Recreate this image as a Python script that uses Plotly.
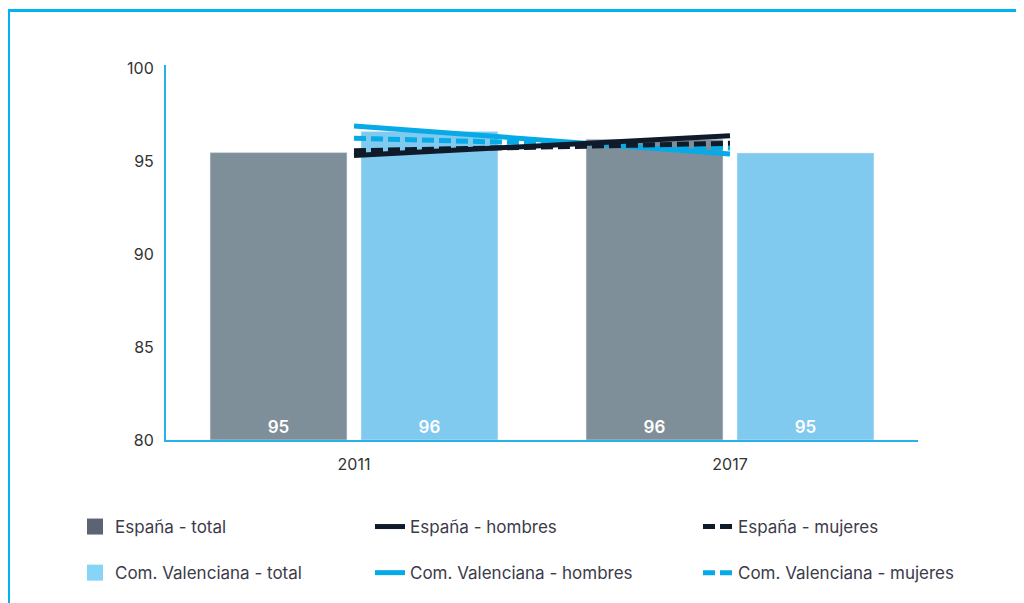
import plotly.graph_objects as go

# ---- data ----
years = ["2011", "2017"]
espana_total = [95.45, 96.17]
valencia_total = [96.58, 95.43]
espana_total_labels = ["95", "96"]
valencia_total_labels = ["96", "95"]
espana_hombres = [95.30, 96.35]
espana_mujeres = [95.55, 95.95]
valencia_hombres = [96.88, 95.38]
valencia_mujeres = [96.22, 95.70]
y_ticks = [80, 85, 90, 95, 100]
y_base = 80

FONT = "Inter"
C_ES_BAR = "#7f8f99"
C_CV_BAR = "#80c9ef"
C_ES_LEG = "#5b6374"
C_CV_LEG = "#86d4f6"
C_ES_LINE = "#0f1a2a"
C_CV_LINE = "#05aae6"
C_AXIS = "#27b1e8"
C_TEXT = "#3b3b4b"

fig = go.Figure()

label_font = dict(color="white", size=17, family=FONT, weight=600)
fig.add_trace(go.Bar(x=years, y=[v - y_base for v in espana_total], base=y_base,
                     name="España - total", marker_color=C_ES_BAR,
                     text=espana_total_labels, textposition="inside", insidetextanchor="start",
                     textfont=label_font, showlegend=False))
fig.add_trace(go.Bar(x=years, y=[v - y_base for v in valencia_total], base=y_base,
                     name="Com. Valenciana - total", marker_color=C_CV_BAR,
                     text=valencia_total_labels, textposition="inside", insidetextanchor="start",
                     textfont=label_font, showlegend=False))

# lines (Valencia first so España lines sit on top)
fig.add_trace(go.Scatter(x=years, y=valencia_hombres, mode="lines", name="Com. Valenciana - hombres",
                         line=dict(color=C_CV_LINE, width=5), legend="legend2", legendrank=2,
                         legendgroup="cvh"))
fig.add_trace(go.Scatter(x=years, y=valencia_mujeres, mode="lines", name="Com. Valenciana - mujeres",
                         line=dict(color=C_CV_LINE, width=5, dash="12px,5px"), legend="legend3", legendrank=2,
                         legendgroup="cvm"))
fig.add_trace(go.Scatter(x=years, y=espana_hombres, mode="lines", name="España - hombres",
                         line=dict(color=C_ES_LINE, width=5), legend="legend2", legendrank=1,
                         legendgroup="esh"))
fig.add_trace(go.Scatter(x=years, y=espana_mujeres, mode="lines", name="España - mujeres",
                         line=dict(color=C_ES_LINE, width=5, dash="12px,5px"), legend="legend3", legendrank=1,
                         legendgroup="esm"))

# legend entries for the bar series
fig.add_trace(go.Scatter(x=[None], y=[None], mode="markers", name="España - total",
                         marker=dict(symbol="square", size=22, color=C_ES_LEG), legend="legend",
                         legendrank=1, legendgroup="est"))
fig.add_trace(go.Scatter(x=[None], y=[None], mode="markers", name="Com. Valenciana - total",
                         marker=dict(symbol="square", size=22, color=C_CV_LEG), legend="legend",
                         legendrank=2, legendgroup="cvt"))

OFF = 8  # page offset of the figure inside the window
W, H = 1016, 595
L = 166 - OFF
T = 65 - OFF
PB = 440 - OFF           # plot bottom (figure px)
PR = 918 - OFF           # plot right (figure px)
R = W - PR
B = H - PB
PW, PH = W - L - R, H - T - B


def px_x(sx):
    return (sx - OFF - L) / PW


def px_y(sy):
    return (PB - (sy - OFF)) / PH


leg_common = dict(orientation="v", xanchor="left", yanchor="top", bgcolor="rgba(0,0,0,0)",
                  font=dict(family=FONT, size=17, color=C_TEXT), tracegroupgap=21,
                  itemsizing="trace", y=px_y(509))

fig.update_layout(
    width=W, height=H,
    margin=dict(l=L, r=R, t=T, b=B),
    paper_bgcolor="white", plot_bgcolor="white",
    barmode="group", bargap=0.197, bargroupgap=0.093,
    font=dict(family=FONT, size=16, color="#333333"),
    legend=dict(**leg_common, x=px_x(75)),
    legend2=dict(**leg_common, x=px_x(370)),
    legend3=dict(**leg_common, x=px_x(698)),
    xaxis=dict(type="category", showline=True, linecolor=C_AXIS, linewidth=2, showgrid=False,
               ticks="", ticklabelstandoff=9, tickfont=dict(size=16, color="#333333")),
    yaxis=dict(range=[80, 100.16], tickvals=y_ticks, showline=True, linecolor=C_AXIS, linewidth=2,
               showgrid=False, zeroline=False, ticks="", ticklabelstandoff=7,
               tickfont=dict(size=16, color="#333333")),
    shapes=[dict(type="rect", xref="paper", yref="paper",
                 x0=px_x(8.5), x1=px_x(1100), y0=px_y(700), y1=px_y(10.5),
                 line=dict(color="#00b4ef", width=3), fillcolor="rgba(0,0,0,0)", layer="below")],
)

fig.write_html("out.html")
